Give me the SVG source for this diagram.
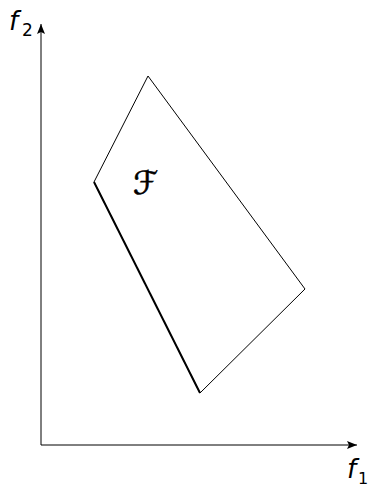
<svg xmlns="http://www.w3.org/2000/svg" width="368" height="487" viewBox="0 0 368 487">
<style>
.ax{stroke:#000;stroke-width:1;fill:none}
.lbl{font-family:"DejaVu Sans","Liberation Sans",sans-serif;font-style:italic;fill:#000}
.sub{font-family:"DejaVu Sans","Liberation Sans",sans-serif;fill:#000}
</style>
<defs>
<marker id="ah" markerWidth="10" markerHeight="8" refX="10" refY="4" orient="auto" markerUnits="userSpaceOnUse">
<path d="M0,0 L10,4 L0,8 L2,4 Z" fill="#000"/>
</marker>
</defs>
<g id="connectors">
<line class="ax" x1="41" y1="445" x2="41" y2="24" marker-end="url(#ah)"/>
<line class="ax" x1="41" y1="445" x2="357" y2="445" marker-end="url(#ah)"/>
</g>
<g id="region">
<polygon points="148,76 94,182 200,393 305,289" fill="none" stroke="#000" stroke-width="1"/>
<line x1="94" y1="182" x2="200" y2="393" stroke="#000" stroke-width="2"/>
<text x="133" y="194" font-family="DejaVu Sans, serif" font-size="32" font-style="italic" stroke="#000" stroke-width="0.6">ℱ</text>
</g>
<g id="label-f2">
<text class="lbl" x="9" y="30" font-size="26">f</text>
<text class="sub" x="22" y="36" font-size="17">2</text>
</g>
<g id="label-f1">
<text class="lbl" x="347" y="478" font-size="26">f</text>
<text class="sub" x="358" y="484" font-size="16">1</text>
</g>
</svg>
